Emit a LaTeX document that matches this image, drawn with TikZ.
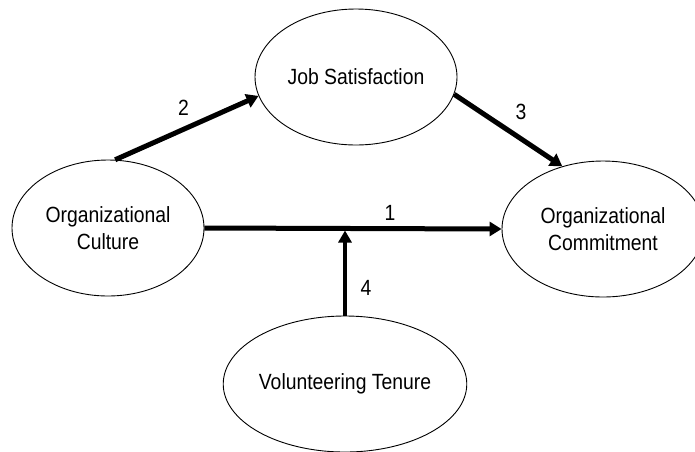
\documentclass[tikz,border=0pt]{standalone}
\usepackage{fontspec}
\setmainfont{Liberation Sans}[FakeStretch=0.88]
\usetikzlibrary{arrows.meta,shapes.geometric}
\tikzset{
  var/.style={draw, ellipse, line width=0.9pt, inner sep=0pt, align=center,
    font=\fontsize{22}{27}\selectfont},
  path/.style={line width=5pt, -{Triangle[length=12pt,width=14pt]}},
  num/.style={font=\fontsize{22}{27}\selectfont, inner sep=0pt}
}
\begin{document}
\begin{tikzpicture}[x=1pt,y=-1pt]
\clip (0,0) rectangle (695,451);
\fill[white] (0,0) rectangle (695,451);
\node[var, minimum width=192pt, minimum height=136pt] (oc) at (108,228) {Organizational\\Culture};
\node[var, minimum width=202pt, minimum height=136pt] (js) at (356,77) {Job Satisfaction};
\node[var, minimum width=202pt, minimum height=136pt] (ocm) at (603,229) {Organizational\\Commitment};
\node[var, minimum width=204pt, minimum height=136pt] (vt) at (345,384) {Volunteering Tenure};
\coordinate (mid) at (345,230.5);
\draw[path] (oc.84) -- (js.191);
\draw[path] (js.-10) -- (ocm.123);
\draw[path] (oc.east) -- (ocm.west);
\draw[line width=4.7pt, -{Triangle[length=12pt,width=13pt]}] (vt.north) -- (mid);
\node[num] (n2) at (183.5,108) {2};
\node[num] (n3) at (521,112) {3};
\node[num] (n1) at (390,213) {1};
\node[num] (n4) at (366,288) {4};
\end{tikzpicture}
\end{document}
